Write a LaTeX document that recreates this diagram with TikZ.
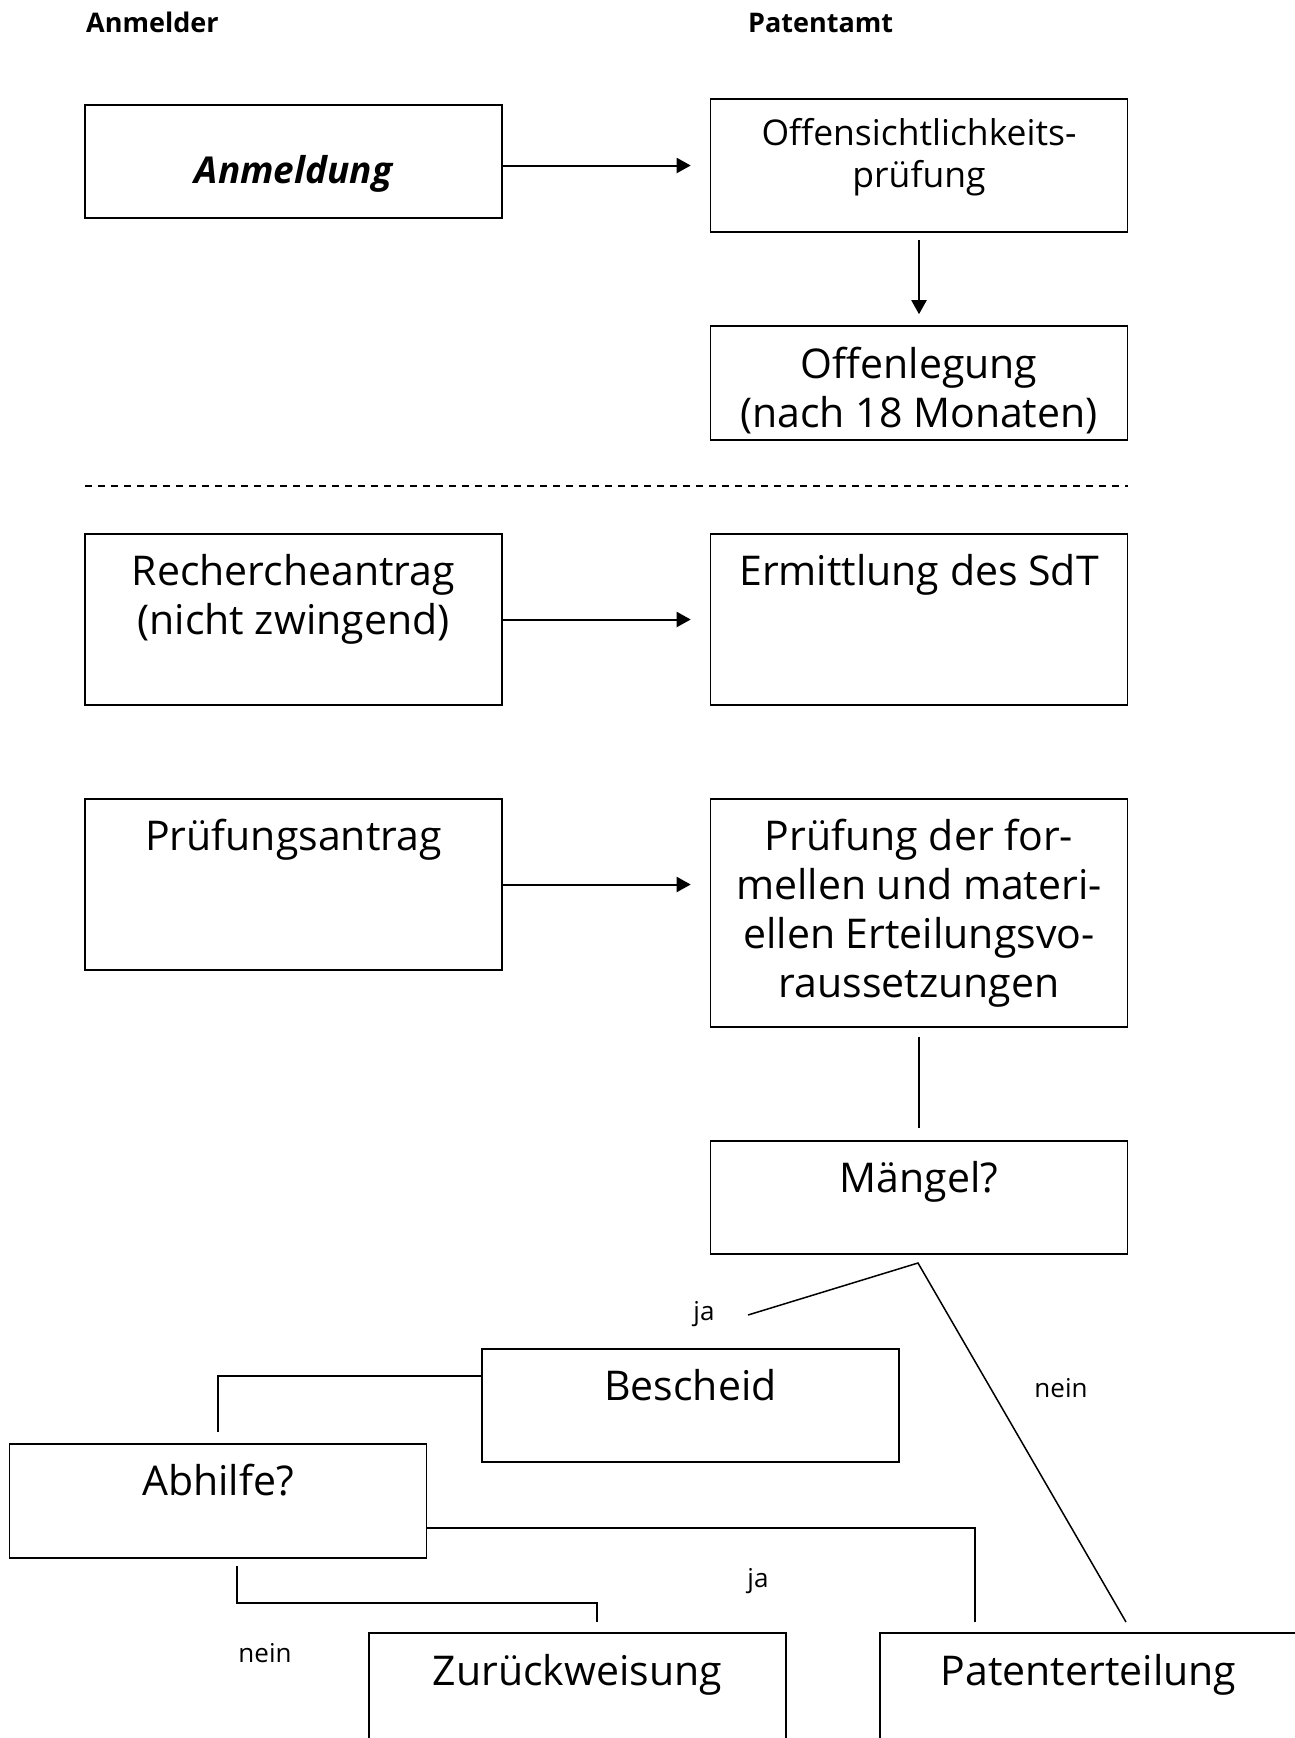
\documentclass[tikz,border=0pt]{standalone}
\usepackage{fontspec}
\setmainfont{Open Sans}
\usetikzlibrary{arrows.meta,calc}
\begin{document}
\begin{tikzpicture}[x=1pt,y=-1pt,
  box/.style={draw, line width=1.6pt, minimum width=417pt, inner sep=0pt},
  big/.style={inner sep=0pt, align=center, font=\fontsize{41}{49}\selectfont},
  bigtop/.style={big, anchor=north},
  bigbase/.style={big, anchor=base},
  small/.style={inner sep=0pt, anchor=base, font=\fontsize{26}{31}\selectfont},
  hdr/.style={inner sep=0pt, anchor=base west, font=\fontsize{27}{32}\selectfont\bfseries},
  arr/.style={line width=2pt, -{Triangle[length=14pt,width=15pt]}},
  conn/.style={line width=1.5pt},
  sep/.style={line width=1.4pt, dash pattern=on 7pt off 6pt}]
\useasboundingbox (0,0) rectangle (1295,1738);
\clip (0,0) rectangle (1295,1738);

% headers
\node[hdr] (hanm) at (86,32) {Anmelder};
\node[hdr] (hpat) at (748,32) {Patentamt};

% boxes
\node[box, minimum height=113pt] (anm) at (293.5,161.5) {};
\node[box, minimum height=133pt] (off) at (919,165.5) {};
\node[box, minimum height=114pt] (offl) at (919,383) {};
\node[box, minimum height=171pt] (rech) at (293.5,619.5) {};
\node[box, minimum height=171pt] (erm) at (919,619.5) {};
\node[box, minimum height=171pt] (pa) at (293.5,884.5) {};
\node[box, minimum height=228pt] (pruef) at (919,913) {};
\node[box, minimum height=113pt] (maen) at (919,1197.5) {};
\node[box, minimum height=113pt] (besch) at (690.5,1405.5) {};
\node[box, minimum height=114pt] (abh) at (218,1501) {};
\node[box, minimum height=113pt] (zur) at (577.5,1689.5) {};
\node[box, minimum height=113pt] (pat) at (1088.5,1689.5) {};

% texts
\node[inner sep=0pt, anchor=base, font=\fontsize{37}{44}\selectfont\bfseries\itshape] (tanm) at (293.5,183) {Anmeldung};
\node[inner sep=0pt, align=center, anchor=north, font=\fontsize{35.5}{42}\selectfont] (toff) at (919,115.6) {\strut Offensichtlichkeits-\\prüfung};
\node[bigtop] (toffl) at (919,343.7) {\strut Offenlegung\\(nach 18 Monaten)};
\node[bigtop] (trech) at (293.5,550.7) {\strut Rechercheantrag\\(nicht zwingend)};
\node[bigbase] (term) at (919,585) {Ermittlung des SdT};
\node[bigbase] (tpa) at (293.5,850) {Prüfungsantrag};
\node[bigtop] (tpruef) at (919,815.7) {\strut Prüfung der for-\\mellen und materi-\\ellen Erteilungsvo-\\raussetzungen};
\node[bigbase] (tmaen) at (919,1192) {Mängel?};
\node[bigbase] (tbesch) at (690.5,1400) {Bescheid};
\node[bigbase] (tabh) at (218,1495) {Abhilfe?};
\node[bigbase] (tzur) at (577.5,1685) {Zurückweisung};
\node[bigbase] (tpat) at (1088.5,1685) {Patenterteilung};

% small labels
\node[small] (ja1) at (704,1320) {ja};
\node[small] (nein1) at (1061,1397) {nein};
\node[small] (ja2) at (758,1587) {ja};
\node[small] (nein2) at (265,1662) {nein};

% separator
\coordinate (s1) at (85,486);
\coordinate (s2) at (1128,486);
\draw[sep] (s1) -- (s2);

% arrows
\draw[arr] (anm.east |- off.west) -- ([xshift=-19pt]off.west);
\draw[arr] ([yshift=-7pt]off.south) -- ([yshift=11pt]offl.north);
\draw[arr] (rech.east) -- ([xshift=-19pt]erm.west |- rech.east);
\draw[arr] (pa.east) -- ([xshift=-19pt]pruef.west |- pa.east);

% connectors
\draw[conn] ([yshift=-9pt]pruef.south) -- ([yshift=12pt]maen.north);
\coordinate (apex) at (918,1263);
\coordinate (jaend) at (748,1315);
\coordinate (neinend) at (1126,1622);
\draw[conn] (jaend) -- (apex) -- (neinend);

\coordinate (b1) at (218,1376);
\coordinate (b2) at (218,1432);
\draw[conn] (besch.west |- b1) -- (b1) -- (b2);

\coordinate (a1) at (975,1528);
\coordinate (a2) at (975,1622);
\draw[conn] (abh.east |- a1) -- (a1) -- (a2);

\coordinate (n1) at (237,1566);
\coordinate (n2) at (237,1603);
\coordinate (n3) at (597,1603);
\coordinate (n4) at (597,1622);
\draw[conn] (n1) -- (n2) -- (n3) -- (n4);
\end{tikzpicture}
\end{document}
